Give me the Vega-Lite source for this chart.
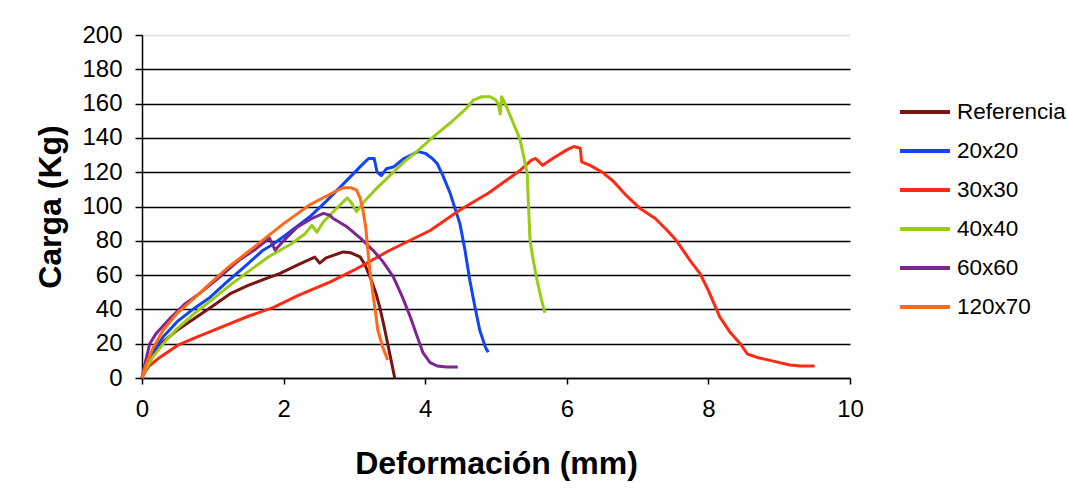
{
  "$schema": "https://vega.github.io/schema/vega-lite/v6.json",
  "width": 708,
  "height": 343,
  "autosize": {"type": "none"},
  "padding": {"left": 142, "top": 35, "right": 217, "bottom": 115},
  "background": "white",
  "config": {"view": {"stroke": null}, "font": "Liberation Sans"},
  "data": {"values": [
    {"s":"Referencia","i":0,"x":0,"y":0},{"s":"Referencia","i":1,"x":0.05,"y":6},{"s":"Referencia","i":2,"x":0.15,"y":13},{"s":"Referencia","i":3,"x":0.3,"y":21},{"s":"Referencia","i":4,"x":0.5,"y":28},{"s":"Referencia","i":5,"x":0.75,"y":35},{"s":"Referencia","i":6,"x":1.0,"y":42},{"s":"Referencia","i":7,"x":1.24,"y":49},{"s":"Referencia","i":8,"x":1.5,"y":54},{"s":"Referencia","i":9,"x":1.75,"y":58},{"s":"Referencia","i":10,"x":1.95,"y":61},{"s":"Referencia","i":11,"x":2.2,"y":66},{"s":"Referencia","i":12,"x":2.44,"y":70.5},{"s":"Referencia","i":13,"x":2.51,"y":67},{"s":"Referencia","i":14,"x":2.6,"y":70},{"s":"Referencia","i":15,"x":2.84,"y":73.5},{"s":"Referencia","i":16,"x":2.95,"y":73},{"s":"Referencia","i":17,"x":3.08,"y":70.6},{"s":"Referencia","i":18,"x":3.15,"y":66},{"s":"Referencia","i":19,"x":3.22,"y":59},{"s":"Referencia","i":20,"x":3.3,"y":50},{"s":"Referencia","i":21,"x":3.36,"y":41},{"s":"Referencia","i":22,"x":3.42,"y":30},{"s":"Referencia","i":23,"x":3.47,"y":20},{"s":"Referencia","i":24,"x":3.52,"y":10},{"s":"Referencia","i":25,"x":3.57,"y":0},
    {"s":"20x20","i":0,"x":0,"y":0},{"s":"20x20","i":1,"x":0.05,"y":7},{"s":"20x20","i":2,"x":0.15,"y":15},{"s":"20x20","i":3,"x":0.3,"y":24},{"s":"20x20","i":4,"x":0.5,"y":33},{"s":"20x20","i":5,"x":0.75,"y":41},{"s":"20x20","i":6,"x":0.96,"y":47},{"s":"20x20","i":7,"x":1.2,"y":56},{"s":"20x20","i":8,"x":1.45,"y":65},{"s":"20x20","i":9,"x":1.71,"y":74.5},{"s":"20x20","i":10,"x":1.85,"y":78},{"s":"20x20","i":11,"x":2.05,"y":84},{"s":"20x20","i":12,"x":2.37,"y":94},{"s":"20x20","i":13,"x":2.6,"y":103},{"s":"20x20","i":14,"x":2.9,"y":115.5},{"s":"20x20","i":15,"x":3.1,"y":124},{"s":"20x20","i":16,"x":3.2,"y":128},{"s":"20x20","i":17,"x":3.28,"y":128},{"s":"20x20","i":18,"x":3.32,"y":120},{"s":"20x20","i":19,"x":3.38,"y":118},{"s":"20x20","i":20,"x":3.45,"y":122},{"s":"20x20","i":21,"x":3.55,"y":123},{"s":"20x20","i":22,"x":3.7,"y":128},{"s":"20x20","i":23,"x":3.9,"y":132},{"s":"20x20","i":24,"x":4.0,"y":131},{"s":"20x20","i":25,"x":4.1,"y":128},{"s":"20x20","i":26,"x":4.17,"y":125},{"s":"20x20","i":27,"x":4.25,"y":118},{"s":"20x20","i":28,"x":4.35,"y":108},{"s":"20x20","i":29,"x":4.49,"y":90},{"s":"20x20","i":30,"x":4.56,"y":75},{"s":"20x20","i":31,"x":4.63,"y":57},{"s":"20x20","i":32,"x":4.7,"y":42},{"s":"20x20","i":33,"x":4.77,"y":28},{"s":"20x20","i":34,"x":4.85,"y":18},{"s":"20x20","i":35,"x":4.89,"y":15},
    {"s":"30x30","i":0,"x":0,"y":0},{"s":"30x30","i":1,"x":0.05,"y":4},{"s":"30x30","i":2,"x":0.1,"y":7},{"s":"30x30","i":3,"x":0.25,"y":12},{"s":"30x30","i":4,"x":0.5,"y":19},{"s":"30x30","i":5,"x":0.78,"y":24},{"s":"30x30","i":6,"x":1.2,"y":31},{"s":"30x30","i":7,"x":1.5,"y":36},{"s":"30x30","i":8,"x":1.85,"y":41},{"s":"30x30","i":9,"x":2.2,"y":48},{"s":"30x30","i":10,"x":2.66,"y":56},{"s":"30x30","i":11,"x":3.0,"y":63},{"s":"30x30","i":12,"x":3.5,"y":74.5},{"s":"30x30","i":13,"x":4.07,"y":86},{"s":"30x30","i":14,"x":4.49,"y":98},{"s":"30x30","i":15,"x":4.9,"y":108},{"s":"30x30","i":16,"x":5.34,"y":121},{"s":"30x30","i":17,"x":5.5,"y":127},{"s":"30x30","i":18,"x":5.56,"y":128},{"s":"30x30","i":19,"x":5.66,"y":124},{"s":"30x30","i":20,"x":5.8,"y":128},{"s":"30x30","i":21,"x":6.0,"y":133},{"s":"30x30","i":22,"x":6.1,"y":135},{"s":"30x30","i":23,"x":6.19,"y":134},{"s":"30x30","i":24,"x":6.21,"y":126},{"s":"30x30","i":25,"x":6.33,"y":124},{"s":"30x30","i":26,"x":6.5,"y":120},{"s":"30x30","i":27,"x":6.65,"y":115},{"s":"30x30","i":28,"x":6.85,"y":106},{"s":"30x30","i":29,"x":7.03,"y":99},{"s":"30x30","i":30,"x":7.25,"y":93},{"s":"30x30","i":31,"x":7.42,"y":86},{"s":"30x30","i":32,"x":7.55,"y":80},{"s":"30x30","i":33,"x":7.64,"y":74.6},{"s":"30x30","i":34,"x":7.75,"y":68},{"s":"30x30","i":35,"x":7.88,"y":61},{"s":"30x30","i":36,"x":8.0,"y":51},{"s":"30x30","i":37,"x":8.16,"y":35.6},{"s":"30x30","i":38,"x":8.3,"y":27},{"s":"30x30","i":39,"x":8.45,"y":20},{"s":"30x30","i":40,"x":8.55,"y":14},{"s":"30x30","i":41,"x":8.69,"y":12},{"s":"30x30","i":42,"x":8.9,"y":10},{"s":"30x30","i":43,"x":9.15,"y":7.6},{"s":"30x30","i":44,"x":9.3,"y":7},{"s":"30x30","i":45,"x":9.5,"y":7},
    {"s":"40x40","i":0,"x":0,"y":0},{"s":"40x40","i":1,"x":0.05,"y":5},{"s":"40x40","i":2,"x":0.15,"y":12},{"s":"40x40","i":3,"x":0.3,"y":20},{"s":"40x40","i":4,"x":0.5,"y":29},{"s":"40x40","i":5,"x":0.75,"y":38},{"s":"40x40","i":6,"x":1.0,"y":46},{"s":"40x40","i":7,"x":1.24,"y":54},{"s":"40x40","i":8,"x":1.5,"y":62},{"s":"40x40","i":9,"x":1.8,"y":71},{"s":"40x40","i":10,"x":2.1,"y":78},{"s":"40x40","i":11,"x":2.3,"y":84},{"s":"40x40","i":12,"x":2.4,"y":89},{"s":"40x40","i":13,"x":2.47,"y":85},{"s":"40x40","i":14,"x":2.56,"y":91},{"s":"40x40","i":15,"x":2.75,"y":99},{"s":"40x40","i":16,"x":2.9,"y":105},{"s":"40x40","i":17,"x":2.96,"y":102},{"s":"40x40","i":18,"x":3.03,"y":97},{"s":"40x40","i":19,"x":3.12,"y":102},{"s":"40x40","i":20,"x":3.3,"y":110},{"s":"40x40","i":21,"x":3.5,"y":118},{"s":"40x40","i":22,"x":3.7,"y":126},{"s":"40x40","i":23,"x":3.88,"y":132},{"s":"40x40","i":24,"x":4.11,"y":140.5},{"s":"40x40","i":25,"x":4.39,"y":150},{"s":"40x40","i":26,"x":4.55,"y":156},{"s":"40x40","i":27,"x":4.68,"y":162},{"s":"40x40","i":28,"x":4.8,"y":164},{"s":"40x40","i":29,"x":4.92,"y":164},{"s":"40x40","i":30,"x":5.0,"y":162},{"s":"40x40","i":31,"x":5.03,"y":160},{"s":"40x40","i":32,"x":5.06,"y":154},{"s":"40x40","i":33,"x":5.08,"y":164},{"s":"40x40","i":34,"x":5.15,"y":158},{"s":"40x40","i":35,"x":5.25,"y":148},{"s":"40x40","i":36,"x":5.34,"y":139},{"s":"40x40","i":37,"x":5.44,"y":119.5},{"s":"40x40","i":38,"x":5.46,"y":100},{"s":"40x40","i":39,"x":5.48,"y":80.5},{"s":"40x40","i":40,"x":5.52,"y":70},{"s":"40x40","i":41,"x":5.58,"y":57},{"s":"40x40","i":42,"x":5.64,"y":46},{"s":"40x40","i":43,"x":5.69,"y":38},
    {"s":"60x60","i":0,"x":0,"y":0},{"s":"60x60","i":1,"x":0.04,"y":8},{"s":"60x60","i":2,"x":0.11,"y":20},{"s":"60x60","i":3,"x":0.2,"y":26},{"s":"60x60","i":4,"x":0.4,"y":35},{"s":"60x60","i":5,"x":0.6,"y":43},{"s":"60x60","i":6,"x":0.82,"y":49.5},{"s":"60x60","i":7,"x":1.1,"y":59},{"s":"60x60","i":8,"x":1.38,"y":69},{"s":"60x60","i":9,"x":1.6,"y":75},{"s":"60x60","i":10,"x":1.8,"y":81.6},{"s":"60x60","i":11,"x":1.84,"y":78},{"s":"60x60","i":12,"x":1.88,"y":74.6},{"s":"60x60","i":13,"x":2.0,"y":80},{"s":"60x60","i":14,"x":2.19,"y":88},{"s":"60x60","i":15,"x":2.4,"y":93},{"s":"60x60","i":16,"x":2.56,"y":96},{"s":"60x60","i":17,"x":2.65,"y":95},{"s":"60x60","i":18,"x":2.7,"y":93},{"s":"60x60","i":19,"x":2.9,"y":88},{"s":"60x60","i":20,"x":3.1,"y":81},{"s":"60x60","i":21,"x":3.26,"y":74.6},{"s":"60x60","i":22,"x":3.4,"y":68},{"s":"60x60","i":23,"x":3.55,"y":59},{"s":"60x60","i":24,"x":3.68,"y":47},{"s":"60x60","i":25,"x":3.79,"y":35.6},{"s":"60x60","i":26,"x":3.88,"y":25},{"s":"60x60","i":27,"x":3.97,"y":14.6},{"s":"60x60","i":28,"x":4.07,"y":9},{"s":"60x60","i":29,"x":4.17,"y":7},{"s":"60x60","i":30,"x":4.3,"y":6.4},{"s":"60x60","i":31,"x":4.46,"y":6.4},
    {"s":"120x70","i":0,"x":0,"y":0},{"s":"120x70","i":1,"x":0.05,"y":7},{"s":"120x70","i":2,"x":0.15,"y":17},{"s":"120x70","i":3,"x":0.3,"y":28},{"s":"120x70","i":4,"x":0.5,"y":38},{"s":"120x70","i":5,"x":0.75,"y":47},{"s":"120x70","i":6,"x":0.96,"y":55},{"s":"120x70","i":7,"x":1.2,"y":64},{"s":"120x70","i":8,"x":1.45,"y":72},{"s":"120x70","i":9,"x":1.71,"y":80.5},{"s":"120x70","i":10,"x":2.0,"y":90},{"s":"120x70","i":11,"x":2.37,"y":101},{"s":"120x70","i":12,"x":2.6,"y":106},{"s":"120x70","i":13,"x":2.84,"y":111},{"s":"120x70","i":14,"x":2.95,"y":111},{"s":"120x70","i":15,"x":3.03,"y":109.6},{"s":"120x70","i":16,"x":3.08,"y":105},{"s":"120x70","i":17,"x":3.12,"y":98},{"s":"120x70","i":18,"x":3.16,"y":88},{"s":"120x70","i":19,"x":3.19,"y":74.6},{"s":"120x70","i":20,"x":3.22,"y":62},{"s":"120x70","i":21,"x":3.26,"y":49.5},{"s":"120x70","i":22,"x":3.3,"y":38},{"s":"120x70","i":23,"x":3.33,"y":28},{"s":"120x70","i":24,"x":3.4,"y":18},{"s":"120x70","i":25,"x":3.47,"y":10.5}
  ]},
  "mark": {"type": "line", "strokeWidth": 3, "strokeJoin": "round"},
  "encoding": {
    "x": {"field": "x", "type": "quantitative",
      "scale": {"domain": [0, 10], "nice": false},
      "axis": {"values": [0, 2, 4, 6, 8, 10], "title": "Deformación (mm)", "grid": false,
        "labelFlush": false, "labelOverlap": false,
        "domainColor": "black", "domainWidth": 1.5, "tickColor": "black", "tickWidth": 1.5, "tickSize": 6,
        "labelFontSize": 24, "labelColor": "black", "labelPadding": 13,
        "titleFontSize": 32, "titleFontWeight": "bold", "titleColor": "black",
        "titleY": 85, "titleBaseline": "middle"}},
    "y": {"field": "y", "type": "quantitative",
      "scale": {"domain": [0, 200], "nice": false},
      "axis": {"values": [0, 20, 40, 60, 80, 100, 120, 140, 160, 180, 200], "title": "Carga (Kg)",
        "labelFlush": false, "labelOverlap": false,
        "grid": true, "gridColor": {"condition": {"test": "datum.value == 200", "value": "#dddddd"}, "value": "black"}, "gridWidth": 1.5,
        "domainColor": "black", "domainWidth": 1.5, "tickColor": "black", "tickWidth": 1.5, "tickSize": 7,
        "labelFontSize": 24, "labelColor": "black", "labelPadding": 13,
        "titleFontSize": 32, "titleFontWeight": "bold", "titleColor": "black",
        "titleX": -92, "titleY": 171.5, "titleAngle": -90, "titleBaseline": "middle", "titleAlign": "center"}},
    "color": {"field": "s", "type": "nominal",
      "scale": {"domain": ["Referencia", "20x20", "30x30", "40x40", "60x60", "120x70"],
        "range": ["#7a1414", "#1144f2", "#ff2a14", "#99cc14", "#7d2590", "#ff6a18"]},
      "legend": {"title": null, "orient": "none", "legendX": 756, "legendY": 50,
        "symbolType": "stroke", "symbolSize": 2500, "symbolStrokeWidth": 4,
        "labelFontSize": 22.5, "labelColor": "black", "labelOffset": 5, "rowPadding": -10}},
    "order": {"field": "i", "type": "quantitative"}
  }
}
